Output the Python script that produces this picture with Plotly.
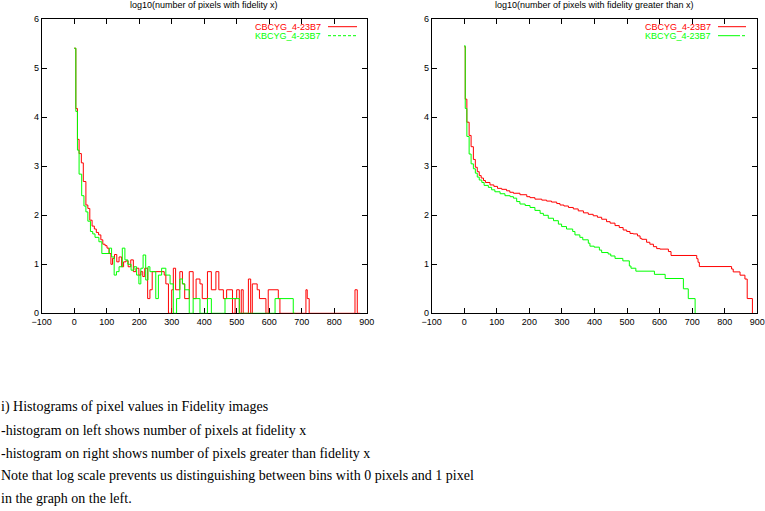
import plotly.graph_objects as go

# ---------------- data ----------------
series_names = ["CBCYG_4-23B7", "KBCYG_4-23B7"]
x_ticks = [-100, 0, 100, 200, 300, 400, 500, 600, 700, 800, 900]
y_ticks = [0, 1, 2, 3, 4, 5, 6]

# left: log10(number of pixels with fidelity x)  (step change points)
red_left_x = [0, 5, 10, 15, 22, 28, 36, 42, 48, 55, 62, 68, 75, 82, 88, 95, 101, 107, 113, 118,
              124, 131, 138, 146, 152, 159, 166, 174, 182, 190, 199, 205, 211, 217, 226, 233, 240, 277, 282, 290,
              300, 305, 312, 325, 333, 340, 354, 366, 375, 387, 394, 410, 422, 436, 445, 459, 469, 487, 495, 500,
              508, 514, 520, 536, 543, 548, 563, 570, 590, 597, 628, 633, 713, 717, 723, 864, 871, 880]
red_left_y = [5.41, 4.18, 3.55, 3.26, 3.07, 2.69, 2.21, 2.14, 1.90, 1.78, 1.72, 1.65, 1.60, 1.50, 1.41, 1.38, 1.33, 1.22, 1.00, 1.12,
              1.20, 1.05, 1.15, 0.95, 1.05, 1.07, 0.95, 1.09, 0.85, 0.92, 0.78, 0.85, 0.75, 0.92, 0.30, 0.48, 0.85, 0.78, 0.60, 0,
              0.48, 0.92, 0.48, 0.85, 0.60, 0.30, 0.85, 0.30, 0.70, 0.60, 0.30, 0.85, 0.48, 0.85, 0.48, 0.30, 0.48, 0, 0.30, 0.48,
              0, 0.48, 0, 0.70, 0, 0.60, 0.48, 0.30, 0, 0.48, 0.30, 0, 0.48, 0.30, 0, 0.48, 0, 0]
green_left_x = [0, 5, 10, 15, 23, 30, 36, 42, 50, 57, 64, 76, 85, 108, 115, 123, 130, 138, 148, 156,
                165, 175, 184, 192, 199, 205, 212, 220, 227, 233, 251, 259, 269, 282, 295, 305, 315, 325, 333, 340,
                354, 366, 387, 410, 422, 464, 508, 618, 674, 680]
green_left_y = [5.41, 4.12, 3.33, 2.84, 2.40, 2.19, 2.07, 1.88, 1.67, 1.62, 1.55, 1.46, 1.22, 1.33, 1.15, 0.78, 0.85, 0.95, 1.33, 1.09,
                1.00, 0.88, 0.95, 0.78, 0.60, 0.92, 1.19, 0.68, 0.95, 0.85, 0.30, 0.78, 0.92, 0.78, 0.60, 0, 0.30, 0.70, 0.60, 0.48,
                0, 0.30, 0, 0.30, 0, 0.30, 0, 0.30, 0, 0]

# right: log10(number of pixels with fidelity greater than x)
red_right_x = [0, 3, 8, 15, 21, 28, 34, 40, 46, 52, 59, 65, 79, 91, 102, 115, 130, 140, 151, 171,
               192, 202, 217, 238, 253, 268, 284, 294, 306, 320, 335, 350, 366, 381, 396, 409, 422, 437, 448, 463,
               476, 488, 499, 509, 519, 532, 540, 545, 560, 570, 581, 591, 601, 627, 635, 714, 718, 722, 821, 826,
               847, 862, 869, 885]
red_right_y = [5.44, 4.37, 3.90, 3.63, 3.40, 3.14, 2.98, 2.89, 2.81, 2.76, 2.71, 2.67, 2.62, 2.59, 2.55, 2.53, 2.50, 2.47, 2.45, 2.42,
               2.38, 2.36, 2.33, 2.31, 2.29, 2.27, 2.24, 2.21, 2.19, 2.16, 2.13, 2.09, 2.05, 2.02, 1.99, 1.96, 1.92, 1.87, 1.84, 1.79,
               1.75, 1.70, 1.67, 1.63, 1.62, 1.58, 1.53, 1.51, 1.45, 1.41, 1.36, 1.32, 1.31, 1.26, 1.18, 1.114, 1.041, 0.954, 0.903, 0.845,
               0.778, 0.699, 0.301, 0]
green_right_x = [0, 3, 8, 15, 21, 28, 34, 40, 46, 54, 61, 74, 84, 94, 110, 125, 141, 151, 161, 171,
                 187, 202, 217, 233, 243, 258, 274, 289, 299, 314, 333, 340, 355, 364, 381, 386, 399, 415, 422, 442,
                 450, 463, 487, 507, 512, 527, 584, 617, 673, 688, 709]
green_right_y = [5.46, 4.18, 3.61, 3.25, 3.05, 2.95, 2.86, 2.78, 2.72, 2.67, 2.61, 2.57, 2.52, 2.48, 2.44, 2.40, 2.38, 2.35, 2.28, 2.23,
                 2.20, 2.16, 2.10, 2.04, 2.00, 1.94, 1.89, 1.82, 1.77, 1.72, 1.67, 1.60, 1.55, 1.50, 1.43, 1.37, 1.35, 1.29, 1.24, 1.21,
                 1.17, 1.12, 1.07, 0.965, 0.92, 0.86, 0.795, 0.71, 0.50, 0.30, 0]

titles = ["log10(number of pixels with fidelity x)",
          "log10(number of pixels with fidelity greater than x)"]
caption_lines = [
    "i) Histograms of pixel values in Fidelity images",
    "-histogram on left shows number of pixels at fidelity x",
    "-histogram on right shows number of pixels greater than fidelity x",
    "Note that log scale prevents us distinguishing between bins with 0 pixels and 1 pixel",
    "in the graph on the left.",
]

# ---------------- layout helpers ----------------
W, H = 765, 511
def px(x):
    return x / W
def py(y):
    return 1 - y / H

RED = "#ff0000"
GREEN = "#00ff00"
SANS = "Liberation Sans, Arial, sans-serif"
SERIF = "Liberation Serif, Times New Roman, serif"

fig = go.Figure()
fig.add_trace(go.Scatter(x=red_left_x, y=red_left_y, mode="lines", line=dict(color=RED, width=1, shape="hv"),
                         xaxis="x", yaxis="y", name=series_names[0], showlegend=False))
fig.add_trace(go.Scatter(x=green_left_x, y=green_left_y, mode="lines", line=dict(color=GREEN, width=1, shape="hv"),
                         xaxis="x", yaxis="y", name=series_names[1], showlegend=False))
fig.add_trace(go.Scatter(x=red_right_x, y=red_right_y, mode="lines", line=dict(color=RED, width=1, shape="hv"),
                         xaxis="x2", yaxis="y2", name=series_names[0], showlegend=False))
fig.add_trace(go.Scatter(x=green_right_x, y=green_right_y, mode="lines", line=dict(color=GREEN, width=1, shape="hv"),
                         xaxis="x2", yaxis="y2", name=series_names[1], showlegend=False))

ydom = [py(313.3), py(19.3)]
axis_common = dict(showline=True, linecolor="black", linewidth=1, mirror="ticks", ticks="inside",
                   ticklen=5, tickcolor="black", tickwidth=1, showgrid=False, zeroline=False,
                   automargin=False,
                   tickfont=dict(family=SANS, size=9, color="black"), layer="below traces")

fig.update_layout(
    template="none",
    width=W, height=H, margin=dict(l=0, r=0, t=0, b=0, pad=0, autoexpand=False),
    paper_bgcolor="white", plot_bgcolor="white",
    xaxis=dict(domain=[px(41.7), px(366.7)], range=[-100, 900], tickmode="array", tickvals=x_ticks,
               anchor="y", **axis_common),
    yaxis=dict(domain=ydom, range=[0, 6], tickmode="array", tickvals=y_ticks, anchor="x", **axis_common),
    xaxis2=dict(domain=[px(431.7), px(757.3)], range=[-100, 900], tickmode="array", tickvals=x_ticks,
                anchor="y2", **axis_common),
    yaxis2=dict(domain=ydom, range=[0, 6], tickmode="array", tickvals=y_ticks, anchor="x2", **axis_common),
    showlegend=False,
)

annotations = []
shapes = []
# chart titles
for cx, t in zip([204.2, 594.5], titles):
    annotations.append(dict(text=t, x=px(cx), y=py(5), xref="paper", yref="paper", xanchor="center",
                            yanchor="middle", showarrow=False, font=dict(family=SANS, size=9, color="black")))
# legends (text right-aligned, then line sample)
for tx, lx0, lx1, right in [(323, 328, 357, False), (713, 718, 746, True)]:
    annotations.append(dict(text=series_names[0], x=px(tx), y=py(26.7), xref="paper", yref="paper",
                            xanchor="right", yanchor="middle", showarrow=False,
                            font=dict(family=SANS, size=9, color=RED)))
    annotations.append(dict(text=series_names[1], x=px(tx), y=py(35.7), xref="paper", yref="paper",
                            xanchor="right", yanchor="middle", showarrow=False,
                            font=dict(family=SANS, size=9, color=GREEN)))
    shapes.append(dict(type="line", xref="paper", yref="paper", x0=px(lx0), x1=px(lx1), y0=py(26.7), y1=py(26.7),
                       line=dict(color=RED, width=1)))
    if right:
        shapes.append(dict(type="line", xref="paper", yref="paper", x0=px(lx0), x1=px(lx0 + 19), y0=py(35.7),
                           y1=py(35.7), line=dict(color=GREEN, width=1)))
        shapes.append(dict(type="line", xref="paper", yref="paper", x0=px(lx0 + 19), x1=px(lx1), y0=py(35.7),
                           y1=py(35.7), line=dict(color=GREEN, width=1, dash="3px,2px")))
    else:
        shapes.append(dict(type="line", xref="paper", yref="paper", x0=px(lx0), x1=px(lx1), y0=py(35.7),
                           y1=py(35.7), line=dict(color=GREEN, width=1, dash="3px,2px")))
# caption
for yc, line in zip([406.7, 430, 453, 475.5, 498], caption_lines):
    annotations.append(dict(text=line, x=px(0), y=py(yc), xref="paper", yref="paper", xanchor="left",
                            yanchor="middle", showarrow=False, borderpad=0,
                            font=dict(family=SERIF, size=14, color="black")))

fig.update_layout(annotations=annotations, shapes=shapes)
fig.write_html("out.html", config={"displayModeBar": False, "staticPlot": True},
               post_script="document.body.style.margin='0';document.body.style.overflow='hidden';")
